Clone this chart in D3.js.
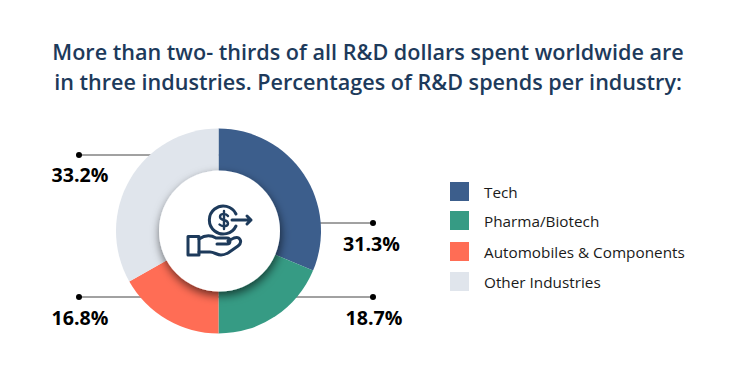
<!DOCTYPE html>
<html>
<head>
<meta charset="utf-8">
<script src="https://cdn.jsdelivr.net/npm/d3@7"></script>
<style>
  html, body { margin: 0; padding: 0; background: #fff; }
  text { font-family: "Open Sans", sans-serif; }
</style>
</head>
<body>
<div id="container"></div>
<script>
/* CONSTANTS AND GLOBALS */
const width = 737,
  height = 371,
  cx = 218.5,
  cy = 231,
  outerRadius = 102.5,
  innerRadius = 60.5;

/* DATA */
const industries = ["Tech", "Pharma/Biotech", "Automobiles & Components", "Other Industries"];
const shares = [31.3, 18.7, 16.8, 33.2];
const colors = ["#3c5e8c", "#369b84", "#ff6d55", "#e0e5ec"];
const titleLines = [
  "More than two- thirds of all R&D dollars spent worldwide are",
  "in three industries. Percentages of R&D spends per industry:"
];

// label placement for each slice: leader line height, dot x, text x
const callouts = [
  { y: 223, dotX: 373, labelX: 371.5, labelY: 251 },
  { y: 297, dotX: 373, labelX: 374, labelY: 325 },
  { y: 297, dotX: 79, labelX: 80, labelY: 325 },
  { y: 155, dotX: 79, labelX: 80, labelY: 182 }
];
const legendY = [192, 221, 252, 282];

const svg = d3.select("#container")
  .append("svg")
  .attr("width", width)
  .attr("height", height)
  .style("display", "block");

/* SHADOW */
const filter = svg.append("defs").append("filter")
  .attr("id", "shadow")
  .attr("x", "-30%").attr("y", "-30%")
  .attr("width", "160%").attr("height", "160%");
filter.append("feDropShadow")
  .attr("dx", 1)
  .attr("dy", 4)
  .attr("stdDeviation", 5)
  .attr("flood-color", "#000")
  .attr("flood-opacity", 0.6);

/* TITLE */
svg.selectAll(".title")
  .data(titleLines)
  .join("text")
  .attr("class", "title")
  .attr("x", 368)
  .attr("y", (d, i) => 60 + i * 30)
  .attr("text-anchor", "middle")
  .attr("font-size", 21.6)
  .attr("font-weight", 600)
  .attr("fill", "#1d3a5b")
  .text(d => d);

/* LEADER LINES - go under the donut */
svg.selectAll(".leader")
  .data(callouts)
  .join("line")
  .attr("class", "leader")
  .attr("x1", d => d.dotX)
  .attr("x2", cx)
  .attr("y1", d => d.y)
  .attr("y2", d => d.y)
  .attr("stroke", "#444")
  .attr("stroke-width", 1);

svg.selectAll(".dot")
  .data(callouts)
  .join("circle")
  .attr("class", "dot")
  .attr("cx", d => d.dotX)
  .attr("cy", d => d.y)
  .attr("r", 3)
  .attr("fill", "#000");

/* DONUT */
const pie = d3.pie().sort(null);
const arc = d3.arc().innerRadius(0).outerRadius(outerRadius);

const donut = svg.append("g").attr("transform", `translate(${cx},${cy})`);

donut.selectAll(".slice")
  .data(pie(shares))
  .join("path")
  .attr("class", "slice")
  .attr("d", arc)
  .attr("fill", (d, i) => colors[i]);

donut.append("circle")
  .attr("cx", 1)
  .attr("r", innerRadius)
  .attr("fill", "#fff")
  .attr("filter", "url(#shadow)");

/* ICON */
const icon = svg.append("g")
  .attr("transform", "translate(186,205)")
  .attr("fill", "none")
  .attr("stroke", "#1d3a5b")
  .attr("stroke-width", 3)
  .attr("stroke-linecap", "round")
  .attr("stroke-linejoin", "round");

// coin, open on the right where the arrow leaves it
icon.append("path").attr("d", "M50 9A14 14 0 1 0 50 21");
icon.append("path").attr("stroke-width", 2.4).attr("d", "M42 11C40 8 34 8 34 12C34 16 42 14 42 18.500C42 22 36 22 33.500 19.500M38 6V24");
icon.append("path").attr("d", "M46 15H65M61 11L65 15L61 19");
// hand
icon.append("path").attr("d", "M2 31.500H13V50H2Z");
icon.append("path").attr("d", "M13 34C19 30 25 30 30 33H41C45 33 45 39 41 39H31M13 47H24C28 47 31 50 35 50C38 50 40 49 42 48L52 41C57 37 54 31 48 33L42 36");

/* PERCENT LABELS */
svg.selectAll(".pct")
  .data(shares)
  .join("text")
  .attr("class", "pct")
  .attr("x", (d, i) => callouts[i].labelX)
  .attr("y", (d, i) => callouts[i].labelY)
  .attr("text-anchor", "middle")
  .attr("font-size", 19.6)
  .attr("font-weight", 700)
  .attr("fill", "#000")
  .text(d => d + "%");

/* LEGEND */
const legend = svg.selectAll(".legend")
  .data(industries)
  .join("g")
  .attr("class", "legend")
  .attr("transform", (d, i) => `translate(450,${legendY[i]})`);

legend.append("rect")
  .attr("y", -10)
  .attr("width", 19)
  .attr("height", 19)
  .attr("fill", (d, i) => colors[i]);

legend.append("text")
  .attr("x", 34)
  .attr("y", 6)
  .attr("font-size", 15.3)
  .attr("fill", "#1a1a1a")
  .text(d => d);
</script>
</body>
</html>
